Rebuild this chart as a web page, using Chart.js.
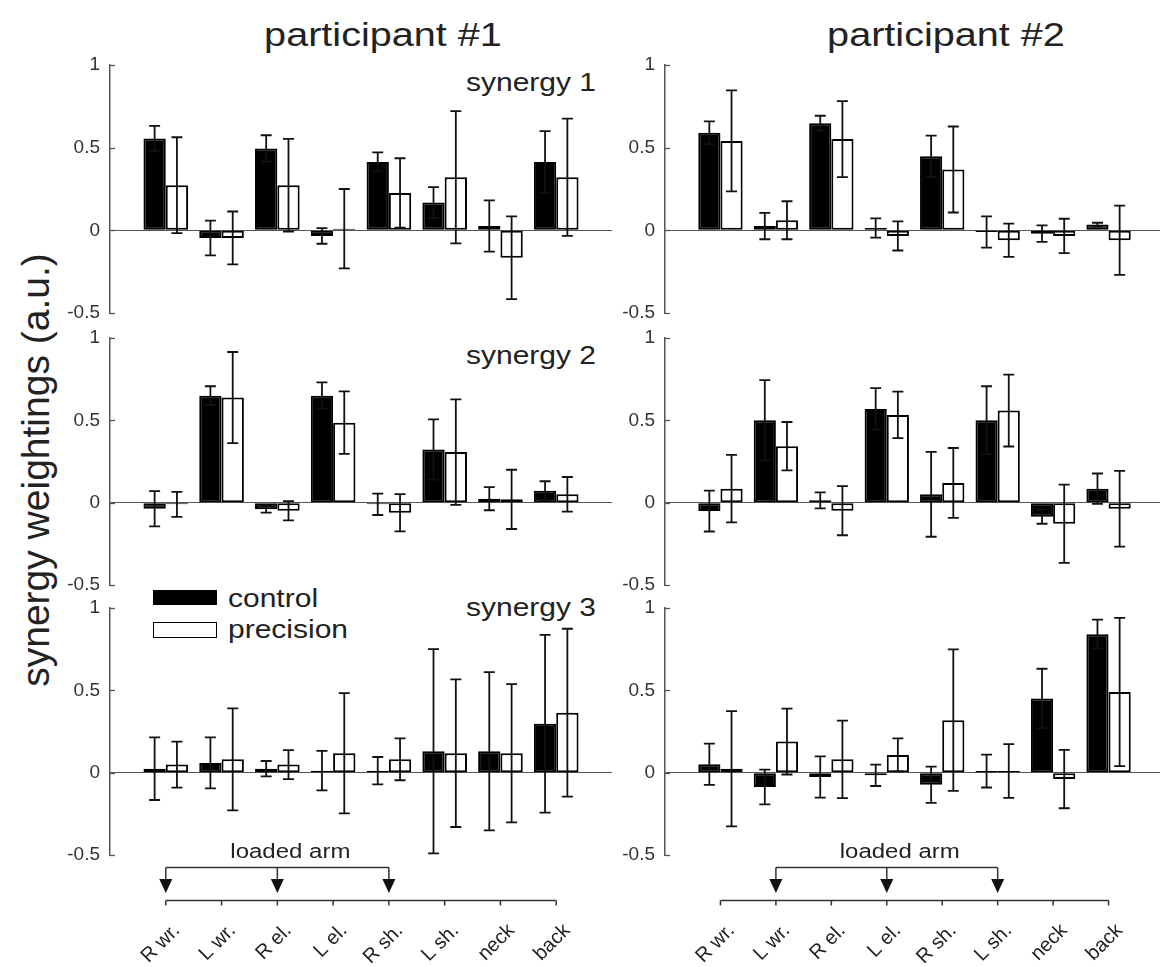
<!DOCTYPE html>
<html>
<head>
<meta charset="utf-8">
<script src="https://cdn.jsdelivr.net/npm/chart.js@4.4.0/dist/chart.umd.min.js"></script>
<style>
body{margin:0;background:#fff;width:1160px;height:967px;overflow:hidden;position:relative;font-family:'Liberation Sans',Arial,sans-serif;color:#222}
canvas{position:absolute;left:0;top:0}
.t{position:absolute;white-space:nowrap;line-height:1}
.box{position:absolute;box-sizing:border-box}
</style>
</head>
<body>
<div id="texts"></div>
<div class="box" style="left:153px;top:590px;width:64px;height:15px;background:#000"></div>
<div class="box" style="left:153px;top:622px;width:64px;height:16px;background:#fff;border:1.5px solid #000"></div>
<canvas id="c0" width="1170" height="967"></canvas>
<canvas id="c1" width="1170" height="967"></canvas>
<canvas id="c2" width="1170" height="967"></canvas>
<canvas id="c3" width="1170" height="967"></canvas>
<canvas id="c4" width="1170" height="967"></canvas>
<canvas id="c5" width="1170" height="967"></canvas>
<script>
// joints (x categories)
const parts = ['R wr.', 'L wr.', 'R el.', 'L el.', 'R sh.', 'L sh.', 'neck', 'back'];
const yTicks = [-0.5, 0, 0.5, 1];

// participant #1
const p1s1Control = [0.556, -0.046, 0.495, -0.034, 0.414, 0.168, 0.026, 0.414];
const p1s1ControlErr = [0.076, 0.105, 0.08, 0.047, 0.057, 0.093, 0.155, 0.186];
const p1s1Precision = [0.273, -0.046, 0.273, 0.01, 0.226, 0.321, -0.166, 0.321];
const p1s1PrecisionErr = [0.29, 0.16, 0.28, 0.24, 0.21, 0.40, 0.25, 0.355];

const p1s2Control = [-0.037, 0.65, -0.04, 0.65, -0.01, 0.323, 0.024, 0.073];
const p1s2ControlErr = [0.107, 0.057, 0.02, 0.08, 0.065, 0.183, 0.07, 0.057];
const p1s2Precision = [-0.01, 0.638, -0.049, 0.486, -0.061, 0.307, 0.02, 0.051];
const p1s2PrecisionErr = [0.076, 0.277, 0.058, 0.19, 0.113, 0.32, 0.18, 0.105];

const p1s3Control = [0.024, 0.059, 0.024, 0.012, 0.012, 0.13, 0.13, 0.297];
const p1s3ControlErr = [0.19, 0.155, 0.047, 0.12, 0.083, 0.62, 0.48, 0.54];
const p1s3Precision = [0.049, 0.081, 0.049, 0.118, 0.081, 0.118, 0.118, 0.364];
const p1s3PrecisionErr = [0.14, 0.31, 0.088, 0.365, 0.127, 0.448, 0.42, 0.51];

// participant #2
const p2s1Control = [0.59, 0.026, 0.648, 0.014, 0.448, -0.01, -0.02, 0.036];
const p2s1ControlErr = [0.069, 0.08, 0.045, 0.058, 0.125, 0.095, 0.05, 0.01];
const p2s1Precision = [0.541, 0.061, 0.552, -0.034, 0.368, -0.06, -0.034, -0.06];
const p2s1PrecisionErr = [0.305, 0.115, 0.23, 0.088, 0.26, 0.1, 0.104, 0.21];

const p2s2Control = [-0.051, 0.5, 0.014, 0.569, 0.051, 0.5, -0.085, 0.085];
const p2s2ControlErr = [0.124, 0.244, 0.049, 0.126, 0.258, 0.207, 0.043, 0.092];
const p2s2Precision = [0.085, 0.343, -0.049, 0.533, 0.12, 0.559, -0.128, -0.037];
const p2s2PrecisionErr = [0.205, 0.147, 0.149, 0.141, 0.212, 0.218, 0.238, 0.23];

const p2s3Control = [0.051, -0.087, -0.026, -0.016, -0.073, 0.01, 0.451, 0.841];
const p2s3ControlErr = [0.125, 0.105, 0.125, 0.065, 0.11, 0.1, 0.18, 0.088];
const p2s3Precision = [0.024, 0.189, 0.081, 0.108, 0.319, 0.01, -0.039, 0.49];
const p2s3PrecisionErr = [0.35, 0.2, 0.235, 0.1, 0.43, 0.163, 0.177, 0.45];

// loaded arm joints (indices into parts)
const loaded1 = [0, 2, 4];
const loaded2 = [1, 3, 5];

const FONT = "'Liberation Sans', Arial, sans-serif";
Chart.defaults.font.family = FONT;

// padded with empty category at each end, like the matlab axis limits
function pad(a) { return [null].concat(a, [null]); }

function addText(txt, x, y, size, tf, origin) {
  let d = document.createElement('div');
  d.className = 't';
  d.textContent = txt;
  d.style.left = x + 'px';
  d.style.top = y + 'px';
  d.style.fontSize = size + 'px';
  d.style.transform = tf;
  if (origin) d.style.transformOrigin = origin;
  document.getElementById('texts').appendChild(d);
}

addText('participant #1', 383, 34, 33, 'translate(-50%,-50%) scaleX(1.2)');
addText('participant #2', 946, 34, 33, 'translate(-50%,-50%) scaleX(1.2)');
addText('synergy weightings (a.u.)', 35, 470, 39, 'translate(-50%,-50%) rotate(-90deg)');
addText('synergy 1', 531, 82, 25, 'translate(-50%,-50%) scaleX(1.2)');
addText('synergy 2', 531, 355, 25, 'translate(-50%,-50%) scaleX(1.2)');
addText('synergy 3', 531, 607, 25, 'translate(-50%,-50%) scaleX(1.2)');
addText('control', 228, 598, 25, 'translate(0,-50%) scaleX(1.2)', '0 50%');
addText('precision', 228, 629, 25, 'translate(0,-50%) scaleX(1.2)', '0 50%');

const panelPlugin = {
  id: 'panel',
  afterDatasetsDraw(chart) {
    const ctx = chart.ctx, y = chart.scales.y;
    ctx.save();
    ctx.strokeStyle = '#111';
    ctx.lineWidth = 1.8;
    chart.data.datasets.forEach((ds, i) => {
      const meta = chart.getDatasetMeta(i);
      meta.data.forEach((el, j) => {
        const v = ds.data[j], e = ds.errors[j];
        if (v == null) return;
        const top = y.getPixelForValue(v + e), bot = y.getPixelForValue(v - e);
        ctx.beginPath();
        ctx.moveTo(el.x, top); ctx.lineTo(el.x, bot);
        ctx.moveTo(el.x - 5.5, top); ctx.lineTo(el.x + 5.5, top);
        ctx.moveTo(el.x - 5.5, bot); ctx.lineTo(el.x + 5.5, bot);
        ctx.stroke();
      });
    });
    ctx.restore();
  },
  afterDraw(chart, args, opts) {
    const ctx = chart.ctx, x = chart.scales.x, y = chart.scales.y, a = chart.chartArea;
    ctx.save();
    // matlab style inward ticks
    ctx.strokeStyle = '#555';
    ctx.lineWidth = 1.3;
    y.ticks.forEach(t => {
      const py = Math.round(y.getPixelForValue(t.value)) + 0.5;
      ctx.beginPath(); ctx.moveTo(a.left, py); ctx.lineTo(a.left + 5, py); ctx.stroke();
    });
    if (opts.loaded) {
      const y0 = 900.5;
      const xs = parts.map((p, i) => x.getPixelForValue(i + 1));
      ctx.strokeStyle = '#333';
      ctx.lineWidth = 1.5;
      ctx.beginPath();
      ctx.moveTo(xs[0], y0); ctx.lineTo(xs[xs.length - 1], y0);
      xs.forEach(px => { ctx.moveTo(px, y0); ctx.lineTo(px, y0 + 5); });
      ctx.stroke();
      ctx.fillStyle = '#222';
      ctx.font = '20px ' + FONT;
      ctx.textAlign = 'right';
      ctx.textBaseline = 'middle';
      parts.forEach((p, i) => {
        ctx.save();
        ctx.translate(xs[i] + 11, y0 + 27);
        ctx.rotate(-Math.PI / 4);
        ctx.fillText(p, 0, 0);
        ctx.restore();
      });
      // loaded arm bracket
      const lx = opts.loaded.map(i => xs[i]);
      const yb = 867.5;
      ctx.beginPath();
      ctx.moveTo(lx[0], yb); ctx.lineTo(lx[lx.length - 1], yb);
      lx.forEach(px => { ctx.moveTo(px, yb); ctx.lineTo(px, 880); });
      ctx.stroke();
      ctx.fillStyle = '#111';
      lx.forEach(px => {
        ctx.beginPath();
        ctx.moveTo(px - 6.5, 879); ctx.lineTo(px + 6.5, 879); ctx.lineTo(px, 893);
        ctx.closePath(); ctx.fill();
      });
      ctx.fillStyle = '#222';
      ctx.save();
      ctx.translate((lx[0] + lx[lx.length - 1]) / 2 + 13, 852);
      ctx.scale(1.2, 1);
      ctx.font = '20px ' + FONT;
      ctx.textAlign = 'center';
      ctx.fillText('loaded arm', 0, 0);
      ctx.restore();
    }
    ctx.restore();
  }
};

function makePanel(id, control, controlErr, precision, precisionErr, axisX, rightX, top, bottom, loaded) {
  return new Chart(document.getElementById(id), {
    type: 'bar',
    data: {
      labels: pad(parts),
      datasets: [
        { label: 'control', data: pad(control), errors: pad(controlErr),
          backgroundColor: '#000', borderColor: '#000' },
        { label: 'precision', data: pad(precision), errors: pad(precisionErr),
          backgroundColor: '#fff', borderColor: '#000' }
      ]
    },
    options: {
      responsive: false,
      animation: false,
      devicePixelRatio: 1,
      events: [],
      datasets: { bar: { categoryPercentage: 0.8, barPercentage: 1, borderWidth: 2, borderSkipped: false } },
      layout: { padding: { left: axisX - 45, right: 1170 - rightX, top: top, bottom: 967 - bottom } },
      plugins: { legend: { display: false }, tooltip: { enabled: false }, panel: { loaded: loaded } },
      scales: {
        x: { type: 'category', display: false, offset: false },
        y: {
          min: -0.5, max: 1,
          afterFit: s => { s.width = 45; },
          afterBuildTicks: s => { s.ticks = yTicks.map(v => ({ value: v })); },
          border: { display: true, color: '#555', width: 1.5 },
          grid: { drawTicks: false, lineWidth: 1,
                  color: c => (c.tick && c.tick.value === 0) ? '#555' : 'rgba(0,0,0,0)' },
          ticks: { padding: 10, color: '#333', font: { size: 19 }, callback: v => String(v) }
        }
      }
    },
    plugins: [panelPlugin]
  });
}

const L = 110, LR = 612, R = 665, RR = 1164;
makePanel('c0', p1s1Control, p1s1ControlErr, p1s1Precision, p1s1PrecisionErr, L, LR, 65, 313, null);
makePanel('c1', p2s1Control, p2s1ControlErr, p2s1Precision, p2s1PrecisionErr, R, RR, 65, 313, null);
makePanel('c2', p1s2Control, p1s2ControlErr, p1s2Precision, p1s2PrecisionErr, L, LR, 338, 585, null);
makePanel('c3', p2s2Control, p2s2ControlErr, p2s2Precision, p2s2PrecisionErr, R, RR, 338, 585, null);
makePanel('c4', p1s3Control, p1s3ControlErr, p1s3Precision, p1s3PrecisionErr, L, LR, 608, 855, loaded1);
makePanel('c5', p2s3Control, p2s3ControlErr, p2s3Precision, p2s3PrecisionErr, R, RR, 608, 855, loaded2);
</script>
</body>
</html>
